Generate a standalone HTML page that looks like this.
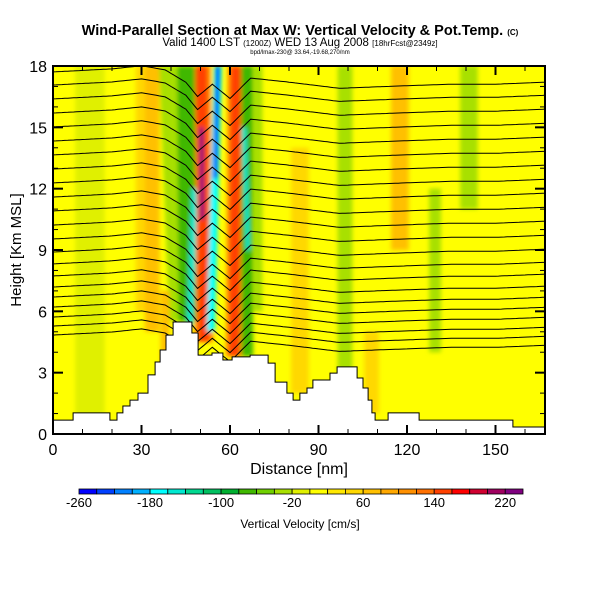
<!DOCTYPE html>
<html><head><meta charset="utf-8"><style>
html,body{margin:0;padding:0;background:#fff;}
svg{display:block;font-family:"Liberation Sans",sans-serif;}
</style></head><body>
<svg id="chart" width="600" height="600" viewBox="0 0 600 600">
<defs>
<clipPath id="plotclip"><rect x="53" y="66" width="492" height="368"/></clipPath>
<filter id="blur" x="-20%" y="-20%" width="140%" height="140%"><feGaussianBlur stdDeviation="2"/></filter>
</defs>
<text x="300" y="35" text-anchor="middle" font-size="14.5" font-weight="bold">Wind-Parallel Section at Max W: Vertical Velocity &amp; Pot.Temp. <tspan font-size="8">(C)</tspan></text>
<text x="300" y="46" text-anchor="middle" font-size="11.5">Valid 1400 LST <tspan font-size="8">(1200Z)</tspan> WED 13 Aug 2008 <tspan font-size="8">[18hrFcst@2349z]</tspan></text>
<text x="300" y="54" text-anchor="middle" font-size="6">bpd/lmax-230@ 33.64,-19.68,270/nm</text>
<g id="plot" clip-path="url(#plotclip)">
<rect x="53" y="66" width="492" height="368" fill="#ffff00"/>
<g id="bands" filter="url(#blur)"></g>
<g id="contours"></g>
<path id="terrain" fill="#fff" stroke="#000" stroke-width="1"/>
</g>
<rect x="53" y="66" width="492" height="368" fill="none" stroke="#000" stroke-width="2"/>
<g id="axes"></g>
<text x="299" y="474" text-anchor="middle" font-size="16">Distance [nm]</text>
<text transform="translate(21,250) rotate(-90)" text-anchor="middle" font-size="15">Height [Km MSL]</text>
<g id="colorbar"></g>
<text x="300" y="528" text-anchor="middle" font-size="12">Vertical Velocity [cm/s]</text>
</svg>
<script>
// ---- data ----
const terrainX = [0,6.8,19.3,21.7,23.7,26.1,28.8,32.2,34.6,36.3,38.3,40.7,47.1,49.2,53.9,57.6,60.7,66.8,72.9,75.3,79.3,81.4,83.7,86.1,88.1,93.9,96.3,103.1,105.1,106.8,108.1,109.2,113.6,124.1,155.9];
const terrainH = [0.68,1.03,0.68,1.03,1.37,1.66,2.0,2.89,3.52,4.11,4.84,5.48,4.94,3.86,3.96,3.62,3.77,3.86,3.47,2.54,2.0,1.66,2.0,2.25,2.64,2.98,3.28,2.74,2.25,1.66,1.03,0.68,1.03,0.68,0.34];
const thetaLevels = [17.71,17.07,16.39,15.70,15.02,14.33,13.65,12.96,12.28,11.59,10.91,10.22,9.54,8.90,8.32,7.73,7.19,6.70,6.21,5.72,5.28,4.84];
const dispX = [0,20,30,38,45,49,54,60,67,80,97,115,135,150,167];
const dispKm = [0,0.15,0.3,0.1,-0.5,-1.2,-0.6,-1.3,-0.3,-0.5,-0.8,-0.7,-0.6,-0.6,-0.5];
const bandW      = [100,100,-10,50,60,-40,-70,60,-150,150,220,-180,-250,150,-70,-150,-30,40,-40,60,-30,-40,50];
const bandXTop   = [50.3,62,12.5,30,33.6,39,45.1,38,48.0,50.3,50.3,55.9,55.9,62,65.8,64.7,69.5,83.7,99,117.6,129.5,141,108];
const bandXBot   = [51.2,61.4,12.5,30,33.6,42.4,45.5,38,46.4,51.2,50.6,53.5,55.0,61.4,65.8,66.1,69.5,83.7,99,117.6,129.5,141,108];
const bandHalf   = [3.2,2.8,5,2,2.5,3,3.0,1.5,1.0,2.0,0.7,1.4,0.7,1.8,2.0,0.7,1.5,3,2.5,3,2,3,2.5];
const bandKmBot  = [4.5,3.8,0,6,5,5.5,5.5,3,5.3,4.5,10.5,5.0,12.5,3.8,3.8,9,6,2,3,9,4,11,1];
const bandKmTop  = [18,18,18,18,18,18,18,7,12,18,15,18,18,18,18,15,18,14,18,18,12,18,5];
const cbColors = ["#0000ff","#0040ff","#0080ff","#00b0ff","#00ffff","#00e8d0","#00d890","#00c060","#00b030","#40b800","#70d000","#a8e000","#e0f000","#ffff00","#ffe800","#ffd800","#ffc000","#ffa800","#ff9000","#ff7000","#ff4000","#ff0000","#d00030","#a00060","#800080"];
const cbTicks = [-260,-180,-100,-20,60,140,220];
const xTicks = [0,30,60,90,120,150];
const yTicks = [0,3,6,9,12,15,18];
// ---- scales ----
const X = nm => 53 + nm*2.95;
const Y = km => 434 - km*20.444;
const NS = "http://www.w3.org/2000/svg";
const colorFor = w => cbColors[Math.max(0,Math.min(24,Math.floor((w+260)/20)))];
function mk(tag, attrs, parent){const e=document.createElementNS(NS,tag);for(const k in attrs)e.setAttribute(k,attrs[k]);parent.appendChild(e);return e;}
function interp(xs, ys, x){ if(x<=xs[0])return ys[0]; for(let i=1;i<xs.length;i++){ if(x<=xs[i]){const t=(x-xs[i-1])/(xs[i]-xs[i-1]);return ys[i-1]+t*(ys[i]-ys[i-1]);}} return ys[ys.length-1];}
// bands
const bg = document.getElementById('bands');
bandW.forEach((w,i)=>{
  const xt=bandXTop[i], xb=bandXBot[i], h=bandHalf[i];
  const pts=[[X(xb-h),Y(bandKmBot[i])],[X(xt-h),Y(bandKmTop[i])],[X(xt+h),Y(bandKmTop[i])],[X(xb+h),Y(bandKmBot[i])]];
  const p=mk('polygon',{points:pts.map(q=>q.join(',')).join(' '),fill:colorFor(w)},bg);
  
  
});
// contours
const cg = document.getElementById('contours');
thetaLevels.forEach(lv=>{
  let d='';
  for(let nm=0;nm<=168;nm+=1){
    const km=lv+interp(dispX,dispKm,nm);
    d+=(nm?'L':'M')+X(nm).toFixed(1)+','+Y(km).toFixed(1);
  }
  const p=mk('path',{d:d,fill:'none',stroke:'#000','stroke-width':1},cg);
  
  
});
// terrain
let td='M'+X(0)+','+Y(0);
terrainX.forEach((x,i)=>{
  const x2 = i<terrainX.length-1 ? terrainX[i+1] : 170;
  td+='L'+X(x).toFixed(1)+','+Y(terrainH[i]).toFixed(1)+'L'+X(x2).toFixed(1)+','+Y(terrainH[i]).toFixed(1);
});
td+='L'+X(170)+','+Y(0)+'Z';
const tp=document.getElementById('terrain');
tp.setAttribute('d',td);


// axes
const ag=document.getElementById('axes');
for(let nm=0;nm<=166;nm+=10){
  const len = nm%30===0?9:5;
  mk('line',{x1:X(nm),x2:X(nm),y1:434,y2:434-len,stroke:'#000','stroke-width':nm%30===0?2:1},ag);
  mk('line',{x1:X(nm),x2:X(nm),y1:66,y2:66+len,stroke:'#000','stroke-width':nm%30===0?2:1},ag);
}
for(let km=0;km<=18;km+=1){
  const len = km%3===0?10:5;
  mk('line',{x1:53,x2:53+len,y1:Y(km),y2:Y(km),stroke:'#000','stroke-width':km%3===0?2:1},ag);
  mk('line',{x1:545,x2:545-len,y1:Y(km),y2:Y(km),stroke:'#000','stroke-width':km%3===0?2:1},ag);
}
xTicks.forEach(v=>{
  const t=mk('text',{x:X(v),y:455,'text-anchor':'middle','font-size':16},ag);
  t.textContent=v;
  
  
});
yTicks.forEach(v=>{
  const t=mk('text',{x:47,y:Y(v)+6,'text-anchor':'end','font-size':16},ag);
  t.textContent=v;
  
  
});
// colorbar
const cb=document.getElementById('colorbar');
const cbX0=79, cbW=(523-79)/25;
cbColors.forEach((c,i)=>{
  const r=mk('rect',{x:cbX0+i*cbW,y:489,width:cbW,height:5,fill:c,stroke:'#000','stroke-width':0.8},cb);
  
  
});
cbTicks.forEach(v=>{
  const t=mk('text',{x:cbX0+(v+260)/20*cbW,y:507,'text-anchor':'middle','font-size':13},cb);
  t.textContent=v;
  
  
});
</script>
</body></html>
